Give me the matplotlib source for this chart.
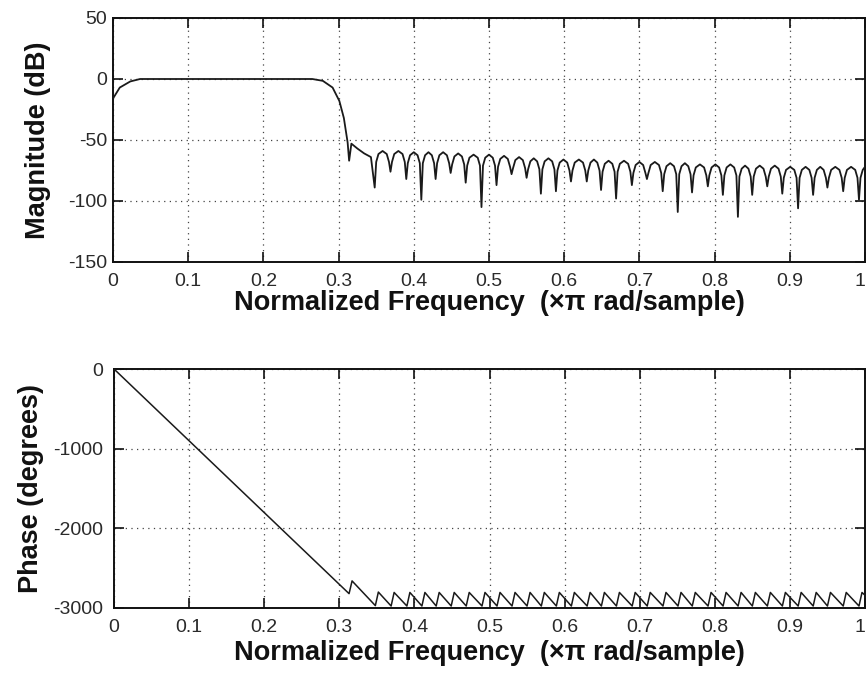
import numpy as np
import matplotlib
matplotlib.use('Agg')
import matplotlib.pyplot as plt

# values (x in units of pi rad/sample)
mag_freq = [0.000, 0.009, 0.023, 0.036, 0.265, 0.279, 0.292, 0.301, 0.307, 0.312,
            0.314, 0.317, 0.325, 0.334, 0.343,
            0.348, 0.350, 0.353, 0.3585, 0.364, 0.367,
            0.369, 0.371, 0.374, 0.3795, 0.385, 0.388,
            0.390, 0.392, 0.395, 0.400, 0.405, 0.408,
            0.410, 0.412, 0.415, 0.4195, 0.424, 0.427,
            0.429, 0.431, 0.434, 0.439, 0.444, 0.447,
            0.449, 0.451, 0.454, 0.459, 0.464, 0.467,
            0.469, 0.471, 0.474, 0.4795, 0.485, 0.488,
            0.490, 0.492, 0.495, 0.500, 0.505, 0.508,
            0.510, 0.512, 0.515, 0.520, 0.525, 0.528,
            0.530, 0.532, 0.535, 0.540, 0.545, 0.548,
            0.550, 0.552, 0.555, 0.5595, 0.564, 0.567,
            0.569, 0.571, 0.574, 0.579, 0.584, 0.587,
            0.589, 0.591, 0.594, 0.599, 0.604, 0.607,
            0.609, 0.611, 0.614, 0.6195, 0.625, 0.628,
            0.630, 0.632, 0.635, 0.6395, 0.644, 0.647,
            0.649, 0.651, 0.654, 0.659, 0.664, 0.667,
            0.669, 0.671, 0.674, 0.6795, 0.685, 0.688,
            0.690, 0.692, 0.695, 0.700, 0.705, 0.708,
            0.710, 0.712, 0.715, 0.7205, 0.726, 0.729,
            0.731, 0.733, 0.736, 0.741, 0.746, 0.749,
            0.751, 0.753, 0.756, 0.7605, 0.765, 0.768,
            0.770, 0.772, 0.775, 0.7805, 0.786, 0.789,
            0.791, 0.793, 0.796, 0.801, 0.806, 0.809,
            0.811, 0.813, 0.816, 0.821, 0.826, 0.829,
            0.831, 0.833, 0.836, 0.8405, 0.845, 0.848,
            0.850, 0.852, 0.855, 0.860, 0.865, 0.868,
            0.870, 0.872, 0.875, 0.880, 0.885, 0.888,
            0.890, 0.892, 0.895, 0.9005, 0.906, 0.909,
            0.911, 0.913, 0.916, 0.921, 0.926, 0.929,
            0.931, 0.933, 0.936, 0.9405, 0.945, 0.948,
            0.950, 0.952, 0.955, 0.9605, 0.966, 0.969,
            0.971, 0.973, 0.976, 0.9815, 0.987, 0.990,
            0.992, 0.994, 0.997, 1.000]
mag_db = [-16, -7, -2, 0, 0, -1.5, -7, -18, -32, -52,
          -67, -53, -57, -61, -64,
          -89, -68, -61.5, -59, -61.5, -68,
          -76, -68, -61.5, -59, -61.5, -68,
          -82, -69, -62.5, -60, -62.5, -69,
          -99, -69, -62.5, -60, -62.5, -69,
          -82, -69, -62.5, -60, -62.5, -69,
          -77, -70, -63.5, -61, -63.5, -70,
          -85, -71, -64.5, -62, -64.5, -71,
          -105, -71, -64.5, -62, -64.5, -71,
          -87, -72, -65.5, -63, -65.5, -72,
          -78, -73, -66.5, -64, -66.5, -73,
          -81, -74, -67.5, -65, -67.5, -74,
          -94, -74, -67.5, -65, -67.5, -74,
          -92, -75, -68.5, -66, -68.5, -75,
          -84, -75, -68.5, -66, -68.5, -75,
          -84, -75, -68.5, -66, -68.5, -75,
          -91, -76, -69.5, -67, -69.5, -76,
          -98, -76, -69.5, -67, -69.5, -76,
          -87, -77, -70.5, -68, -70.5, -77,
          -82, -77, -70.5, -68, -70.5, -77,
          -92, -78, -71.5, -69, -71.5, -78,
          -109, -78, -71.5, -69, -71.5, -78,
          -93, -79, -72.5, -70, -72.5, -79,
          -88, -79, -72.5, -70, -72.5, -79,
          -95, -79, -72.5, -70, -72.5, -79,
          -113, -80, -73.5, -71, -73.5, -80,
          -95, -80, -73.5, -71, -73.5, -80,
          -88, -80, -73.5, -71, -73.5, -80,
          -94, -81, -74.5, -72, -74.5, -81,
          -106, -81, -74.5, -72, -74.5, -81,
          -95, -81, -74.5, -72, -74.5, -81,
          -89, -81, -74.5, -72, -74.5, -81,
          -92, -81, -74.5, -72, -74.5, -81,
          -99, -81, -74.5, -72]

phase_freq = [0.000, 0.313, 0.317, 0.348, 0.352,
              0.369, 0.373, 0.390, 0.394, 0.410, 0.414, 0.429, 0.433,
              0.449, 0.453, 0.469, 0.473, 0.490, 0.494, 0.510, 0.514,
              0.530, 0.534, 0.550, 0.554, 0.569, 0.573, 0.589, 0.593,
              0.609, 0.613, 0.630, 0.634, 0.649, 0.653, 0.669, 0.673,
              0.690, 0.694, 0.710, 0.714, 0.731, 0.735, 0.751, 0.755,
              0.770, 0.774, 0.791, 0.795, 0.811, 0.815, 0.831, 0.835,
              0.850, 0.854, 0.870, 0.874, 0.890, 0.894, 0.911, 0.915,
              0.931, 0.935, 0.950, 0.954, 0.971, 0.975, 0.992, 0.996, 1.000]
phase_deg = [0, -2820, -2660, -2970, -2800,
             -2975, -2805, -2975, -2805, -2975, -2805, -2975, -2805,
             -2975, -2805, -2975, -2805, -2975, -2805, -2975, -2805,
             -2975, -2805, -2975, -2805, -2975, -2805, -2975, -2805,
             -2975, -2805, -2975, -2805, -2975, -2805, -2975, -2805,
             -2975, -2805, -2975, -2805, -2975, -2805, -2975, -2805,
             -2975, -2805, -2975, -2805, -2975, -2805, -2975, -2805,
             -2975, -2805, -2975, -2805, -2975, -2805, -2975, -2805,
             -2975, -2805, -2975, -2805, -2975, -2805, -2975, -2805, -2840]

freq_ticks = [0, 0.1, 0.2, 0.3, 0.4, 0.5, 0.6, 0.7, 0.8, 0.9, 1]
freq_ticklabels = ['0', '0.1', '0.2', '0.3', '0.4', '0.5', '0.6', '0.7', '0.8', '0.9', '1']
mag_ticks = [-150, -100, -50, 0, 50]
phase_ticks = [-3000, -2000, -1000, 0]

plt.rcParams['font.family'] = ['Liberation Sans', 'DejaVu Sans']
plt.rcParams['axes.unicode_minus'] = False

W, H = 866, 673
fig = plt.figure(figsize=(W / 100, H / 100), dpi=100)
fig.patch.set_facecolor('white')

ax1 = fig.add_axes([113 / W, 1 - 262 / H, 752 / W, 244 / H])
ax2 = fig.add_axes([114 / W, 1 - 608 / H, 751 / W, 239 / H])

xlabel = 'Normalized Frequency  (\u00d7\u03c0 rad/sample)'

def style(ax, yticks, ylim, ylabel, ypad, ylab_x, xlab_y):
    ax.set_xlim(0, 1)
    ax.set_ylim(*ylim)
    ax.set_xticks(freq_ticks)
    ax.set_xticklabels(freq_ticklabels)
    ax.get_xticklabels()[-1].set_horizontalalignment('right')
    ax.set_yticks(yticks)
    ax.grid(True, color='#444444', linestyle=(0, (1, 3.5)), linewidth=0.9)
    ax.tick_params(direction='in', top=True, right=True, length=7, width=1.2,
                   labelsize=14, labelcolor='#2a2a2a', color='#111111')
    ax.tick_params(axis='x', pad=8)
    ax.tick_params(axis='y', pad=ypad)
    for s in ax.spines.values():
        s.set_linewidth(1.4)
        s.set_color('#111111')
    ax.set_xlabel(xlabel, fontsize=19.5, fontweight='bold', color='#111111')
    ax.set_ylabel(ylabel, fontsize=19.5, fontweight='bold', color='#111111')
    ax.xaxis.set_label_coords(0.5, xlab_y)
    ax.yaxis.set_label_coords(ylab_x, 0.5)

ax1.plot(mag_freq, mag_db, color='#1a1a1a', linewidth=1.3, zorder=3)
style(ax1, mag_ticks, (-150, 50), 'Magnitude (dB)', 4, -0.082, -0.115)

ax2.plot(phase_freq, phase_deg, color='#1a1a1a', linewidth=1.1, zorder=3)
style(ax2, phase_ticks, (-3000, 0), 'Phase (degrees)', 8, -0.093, -0.135)

fig.savefig('out.png', dpi=100, facecolor='white')
